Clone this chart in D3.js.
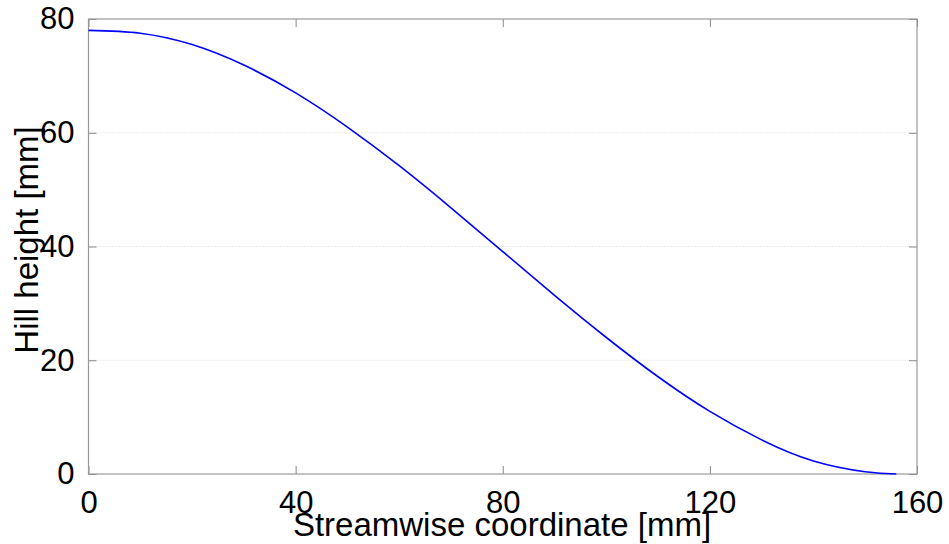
<!DOCTYPE html>
<html>
<head>
<meta charset="utf-8">
<script src="https://cdn.jsdelivr.net/npm/d3@7"></script>
<style>
  body { margin: 0; background: #fff; }
  svg text { font-family: "Liberation Sans", Arial, sans-serif; fill: #000; }
</style>
</head>
<body>
<svg id="chart" width="949" height="544"></svg>
<script>
// profil de la colline
const xVals = [0, 10, 20, 30, 40, 50, 60, 70, 80, 90, 100, 110, 120, 130, 140, 150, 156];
const hVals = [78.0, 77.5, 75.5, 71.9, 67.0, 61.0, 54.2, 46.8, 39.1, 31.4, 24.0, 17.1, 11.0, 6.0, 2.3, 0.4, 0];
const xTicks = [0, 40, 80, 120, 160];
const yTicks = [0, 20, 40, 60, 80];
const gridTicks = [20, 40, 60];

const svg = d3.select("#chart");
const margin = { top: 19, right: 32, bottom: 70, left: 88.5 };
const width = 949 - margin.left - margin.right;
const height = 544 - margin.top - margin.bottom;

const g = svg.append("g").attr("transform", `translate(${margin.left}, ${margin.top})`);

const x = d3.scaleLinear().domain([0, 160]).range([0, width]);
const y = d3.scaleLinear().domain([0, 80]).range([height, 0]);

// grille horizontale pointillée
g.selectAll(".grid")
  .data(gridTicks)
  .enter()
  .append("line")
  .attr("x1", 0)
  .attr("x2", width)
  .attr("y1", d => y(d))
  .attr("y2", d => y(d))
  .attr("stroke", "#d8d8d8")
  .attr("stroke-width", 1)
  .attr("stroke-dasharray", "1,2");

// axes avec graduations vers l'intérieur
const axisStyle = sel => {
  sel.select(".domain").remove();
  sel.selectAll(".tick line").attr("stroke", "#888");
};

g.append("g")
  .attr("transform", `translate(0, ${height})`)
  .call(d3.axisBottom(x).tickValues(xTicks).tickSizeInner(-8).tickSizeOuter(0).tickPadding(17))
  .call(axisStyle)
  .selectAll("text")
  .style("font-size", "31px")
  .attr("dy", "0.71em");

g.append("g")
  .call(d3.axisTop(x).tickValues(xTicks).tickSizeInner(-8).tickSizeOuter(0).tickFormat(""))
  .call(axisStyle);

g.append("g")
  .call(d3.axisLeft(y).tickValues(yTicks).tickSizeInner(-8).tickSizeOuter(0).tickPadding(14))
  .call(axisStyle)
  .selectAll("text")
  .style("font-size", "31px");

g.append("g")
  .attr("transform", `translate(${width}, 0)`)
  .call(d3.axisRight(y).tickValues(yTicks).tickSizeInner(-8).tickSizeOuter(0).tickFormat(""))
  .call(axisStyle);

// cadre
g.append("rect")
  .attr("width", width)
  .attr("height", height)
  .attr("fill", "none")
  .attr("stroke", "#999")
  .attr("stroke-width", 1.2);

// courbe
const data = xVals.map((v, i) => [v, hVals[i]]);
g.append("path")
  .datum(data)
  .attr("fill", "none")
  .attr("stroke", "#0000ff")
  .attr("stroke-width", 1.6)
  .attr("d", d3.line().x(d => x(d[0])).y(d => y(d[1])).curve(d3.curveNatural));

// titres des axes
svg.append("text")
  .attr("x", 502)
  .attr("y", 536)
  .attr("text-anchor", "middle")
  .style("font-size", "33px")
  .text("Streamwise coordinate [mm]");

svg.append("text")
  .attr("transform", "rotate(-90)")
  .attr("x", -240)
  .attr("y", 38)
  .attr("text-anchor", "middle")
  .style("font-size", "33px")
  .text("Hill height [mm]");
</script>
</body>
</html>
